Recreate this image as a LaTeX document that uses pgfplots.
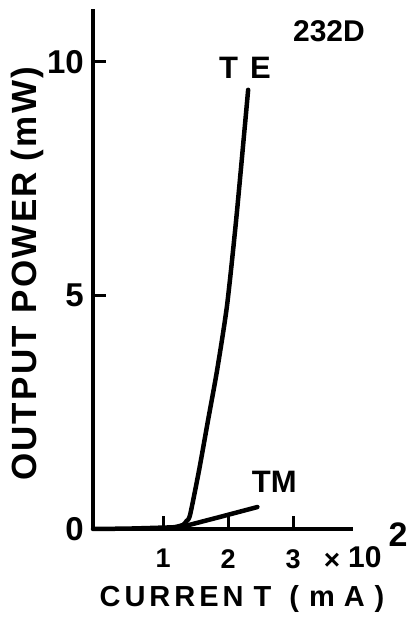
\documentclass[border=0pt]{standalone}
\usepackage{fontspec}
\setmainfont{Liberation Sans}
\usepackage{pgfplots}
\pgfplotsset{compat=1.18}
\newcommand{\fs}[1]{\fontsize{#1}{#1}\selectfont\bfseries}
\newcommand{\ka}{\kern4pt}
\newcommand{\kb}{\kern2.2pt}
\begin{document}
\begin{tikzpicture}
\path[use as bounding box] (0,0) rectangle (414pt,625pt);
\begin{axis}[
  at={(93pt,96pt)}, anchor=south west,
  scale only axis, width=260pt, height=520pt,
  xmin=-0.077, xmax=3.92, ymin=0, ymax=11.13,
  axis x line*=bottom, axis y line*=left,
  x axis line style={-}, y axis line style={-},
  axis line style={line width=3.5pt},
  tick align=inside, major tick length=13pt,
  every tick/.style={line width=3pt, black},
  xtick={1,2,3}, ytick={0,5,10},
  xticklabels={1,2,3}, yticklabels={0,5,10},
  xticklabel style={font=\fs{27pt}, inner sep=0pt, yshift=-20pt},
  yticklabel style={font=\fs{33pt}, inner sep=0pt, xshift=-9pt},
  clip=false,
]
\addplot[black, line width=4.5pt, line cap=round, line join=round, smooth, tension=0.4] coordinates {
(-0.077,0) (0.5,0.01) (1.0,0.03) (1.18,0.04) (1.31,0.09) (1.36,0.17) (1.415,0.30)
(1.554,1.26) (1.692,2.33) (1.831,3.40) (1.985,4.80) (2.131,6.72) (2.308,9.40)
};
\addplot[black, line width=4.5pt, line cap=round] coordinates {
(1.30,0.05) (1.88,0.26) (2.45,0.47)
};
\node[font=\fs{31pt}] at (axis cs:2.26,9.87) {T\hspace{12pt}E};
\node[font=\fs{31pt}] at (axis cs:2.71,1.01) {TM};
\node[font=\fs{30pt}] at (axis cs:3.55,10.66) {232D};
\end{axis}
\node[font=\fs{28pt}] at (332pt,64pt) {×};
\node[font=\fs{30pt}, anchor=base west, inner sep=0pt] at (348pt,57pt) {10};
\node[font=\fs{34pt}, anchor=base, inner sep=0pt] at (398pt,78pt) {2};
\node[font=\fs{29pt}, anchor=base, inner sep=0pt] at (242pt,18pt)
  {C\ka U\ka R\ka R\ka E\ka N\kern10pt T\kern18pt (\kern10pt m\kern9pt A\kern10pt )};
\node[font=\fs{35pt}, anchor=base, inner sep=0pt, rotate=90] at (37pt,351pt)
  {O\kb U\kb T\kb P\kb U\kb T\kern13pt P\kb O\kb W\kb E\kb R\kern11pt (\kb m\kb W\kb )};
\end{tikzpicture}
\end{document}
